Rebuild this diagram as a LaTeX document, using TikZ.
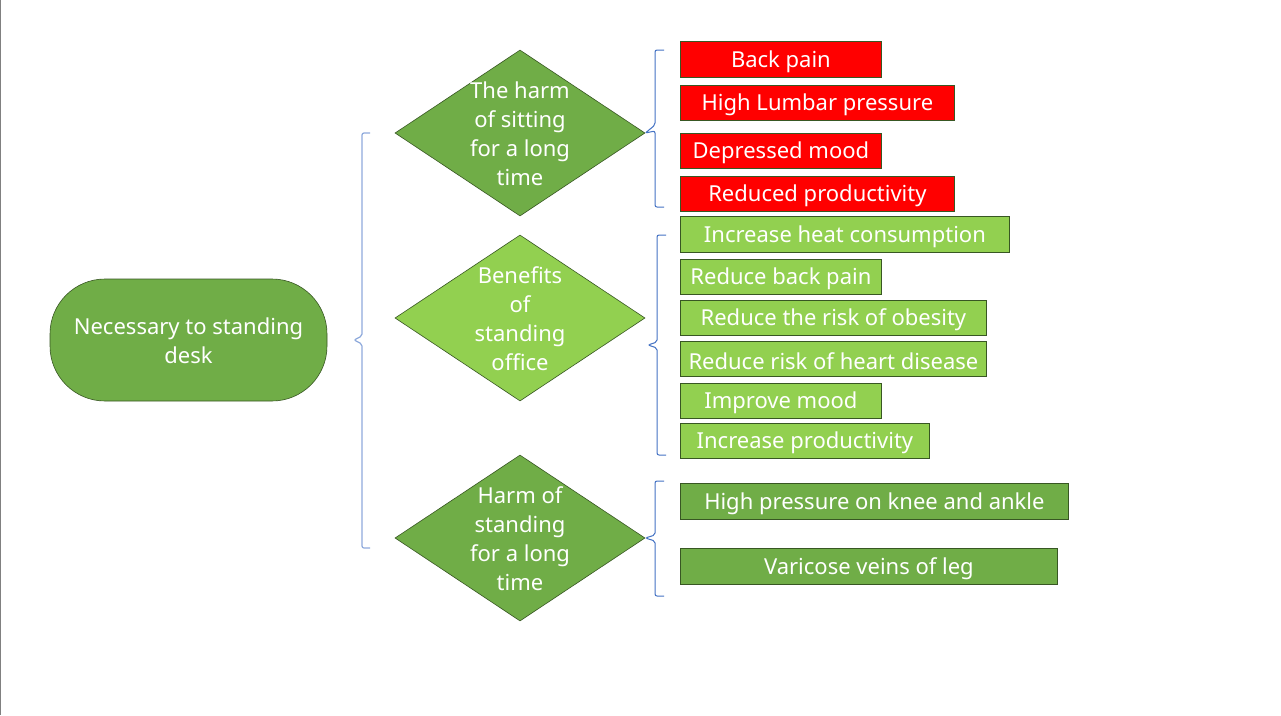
\documentclass[tikz,border=0pt]{standalone}
\usepackage{fontspec}
\setmainfont{Noto Sans}
\usetikzlibrary{shapes.geometric}
\definecolor{gmid}{HTML}{70AD47}
\definecolor{glight}{HTML}{92D050}
\definecolor{gdark}{HTML}{385723}
\definecolor{bbrace}{HTML}{4472C4}
\definecolor{lbrace}{HTML}{8FAADC}
\tikzset{
  txt/.style={text=white, font=\fontsize{22}{29}\selectfont, inner sep=0pt},
  box/.style={draw=gdark, line width=0.8pt, anchor=north west, inner sep=0pt},
  dia/.style={draw=gdark, line width=0.6pt, diamond, inner sep=0pt, minimum width=250pt, minimum height=166pt, shape aspect=1.506},
  bracepath/.style={draw=bbrace, line width=1pt, rounded corners=2pt},
}
\begin{document}
\begin{tikzpicture}[x=1pt,y=-1pt]
\useasboundingbox (0,0) rectangle (1281,715);
\fill[white] (0,0) rectangle (1281,715);
\draw[gray, line width=1.2pt] (0.6,0) -- (0.6,715);

% root
\node[draw=gdark, line width=0.6pt, fill=gmid, rounded corners=55pt,
      minimum width=277pt, minimum height=122pt] (root) at (188.5,340) {};
\node[txt, align=center] (rootlbl) at (188.5,341) {Necessary to standing\\desk};

% diamonds
\node[dia, fill=gmid] (d1) at (520,133) {};
\node[txt, align=center] (d1lbl) at (520,134) {The harm\\of sitting\\for a long\\time};
\node[dia, fill=glight] (d2) at (520,318) {};
\node[txt, align=center] (d2lbl) at (520,319) {Benefits\\of\\standing\\office};
\node[dia, fill=gmid] (d3) at (520,538) {};
\node[txt, align=center] (d3lbl) at (520,539) {Harm of\\standing\\for a long\\time};

% boxes
\node[box, fill=red, minimum width=201pt, minimum height=36pt] (a1) at (680,41) {};
\node[txt] at ([yshift=-2pt]a1.center) {Back pain};
\node[box, fill=red, minimum width=274pt, minimum height=35pt] (a2) at (680,85) {};
\node[txt] at ([yshift=-2pt]a2.center) {High Lumbar pressure};
\node[box, fill=red, minimum width=201pt, minimum height=35pt] (a3) at (680,133) {};
\node[txt] at ([yshift=-2pt]a3.center) {Depressed mood};
\node[box, fill=red, minimum width=274pt, minimum height=35pt] (a4) at (680,176) {};
\node[txt] at ([yshift=-2pt]a4.center) {Reduced productivity};

\node[box, fill=glight, minimum width=329pt, minimum height=36pt] (b1) at (680,216) {};
\node[txt] at ([yshift=-2pt]b1.center) {Increase heat consumption};
\node[box, fill=glight, minimum width=201pt, minimum height=35pt] (b2) at (680,259) {};
\node[txt] at ([yshift=-2pt]b2.center) {Reduce back pain};
\node[box, fill=glight, minimum width=306pt, minimum height=35pt] (b3) at (680,300) {};
\node[txt] at ([yshift=-2pt]b3.center) {Reduce the risk of obesity};
\node[box, fill=glight, minimum width=306pt, minimum height=35pt] (b4) at (680,341) {};
\node[txt] at ([yshift=-2pt]b4.center) {Reduce risk of heart disease};
\node[box, fill=glight, minimum width=201pt, minimum height=35pt] (b5) at (680,383) {};
\node[txt] at ([yshift=-2pt]b5.center) {Improve mood};
\node[box, fill=glight, minimum width=249pt, minimum height=35pt] (b6) at (680,423) {};
\node[txt] at ([yshift=-2pt]b6.center) {Increase productivity};

\node[box, fill=gmid, minimum width=388pt, minimum height=36pt] (c1) at (680,483) {};
\node[txt] at ([yshift=-2pt]c1.center) {High pressure on knee and ankle};
\node[box, fill=gmid, minimum width=377pt, minimum height=36pt] (c2) at (680,548) {};
\node[txt] at ([yshift=-2pt]c2.center) {Varicose veins of leg};

% braces
\coordinate (B0t) at (370,133); \coordinate (B0m) at (354,340); \coordinate (B0b) at (370,548);
\draw[bracepath, draw=lbrace, line width=1.2pt] (B0t) -- (362,133) -- (362,336) -- (B0m) -- (362,344) -- (362,548) -- (B0b);

\coordinate (B1t) at (664,50); \coordinate (B1m) at (d1.east); \coordinate (B1b) at (664,207);
\draw[bracepath] (B1t) -- (655,50) -- (655,125) -- (B1m) -- (655,131) -- (655,207) -- (B1b);

\coordinate (B2t) at (666,235); \coordinate (B2m) at (648,345); \coordinate (B2b) at (666,455);
\draw[bracepath] (B2t) -- (657,235) -- (657,342) -- (B2m) -- (657,348) -- (657,455) -- (B2b);

\coordinate (B3t) at (664,481); \coordinate (B3m) at (d3.east); \coordinate (B3b) at (664,596);
\draw[bracepath] (B3t) -- (655,481) -- (655,535) -- (B3m) -- (655,541) -- (655,596) -- (B3b);
\end{tikzpicture}
\end{document}
